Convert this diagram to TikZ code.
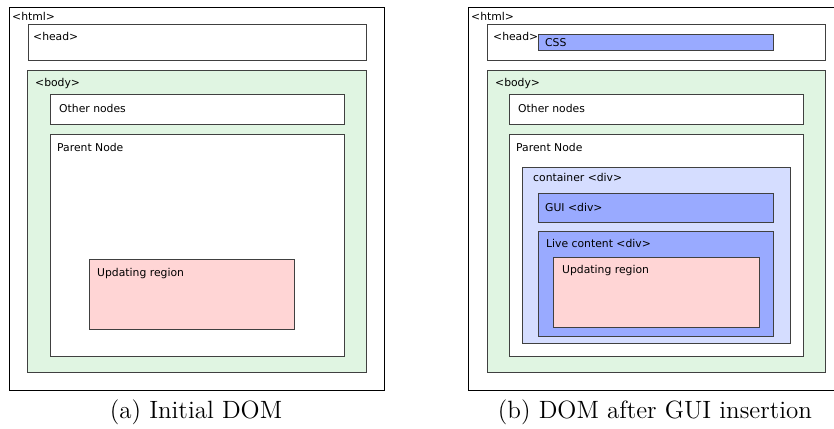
\documentclass[tikz,border=0pt]{standalone}
\usepackage{fontspec}
\newfontfamily\tagfont{DejaVu Sans}
\newfontfamily\capfont{lmroman12-regular.otf}
\usetikzlibrary{positioning}
\colorlet{line colour}{black!75}
\definecolor{body colour}{RGB}{224,245,226}
\definecolor{update colour}{RGB}{255,213,213}
\definecolor{gui colour}{RGB}{153,170,255}
\definecolor{container colour}{RGB}{213,221,255}
\tikzset{
    % Every DOM element is a plain box hung from its top left corner
    box/.style={draw=line colour, line width=0.9pt, inner sep=0,
        anchor=north west},
    html box/.style={box, draw=black, line width=0.8pt},
    % Element names sit inside, near the top left corner
    tag/.style={font=\tagfont\fontsize{10.8}{12}\selectfont, inner sep=0},
    caption/.style={font=\capfont\fontsize{25}{29}\selectfont, inner sep=0},
}

\begin{document}
\begin{tikzpicture}[x=1pt, y=-1pt]

% This path fixes the extent of the picture
\useasboundingbox (0,0) rectangle (834,428);
\clip (0,0) rectangle (834,428);

% (a) Initial DOM
\node [html box, minimum width=375pt, minimum height=383pt] (html a) at (9,7) {};
\node [tag, below right=5pt and 3pt of html a.north west] {<html>};

\node [box, minimum width=338pt, minimum height=36pt] (head a) at (28,24) {};
\node [tag, below right=8pt and 5pt of head a.north west] {<head>};

\node [box, fill=body colour, minimum width=339pt, minimum height=302pt] (body a) at (27,70) {};
\node [tag, below right=8pt and 8pt of body a.north west] {<body>};

\node [box, fill=white, minimum width=294pt, minimum height=30pt] (other a) at (50,94) {};
\node [tag, below right=10pt and 9pt of other a.north west] {Other nodes};

\node [box, fill=white, minimum width=294pt, minimum height=222pt] (parent a) at (50,134) {};
\node [tag, below right=9pt and 7pt of parent a.north west] {Parent Node};

\node [box, fill=update colour, minimum width=205pt, minimum height=70pt] (update a) at (89,259) {};
\node [tag, below right=9pt and 8pt of update a.north west] {Updating region};

\node [caption] (caption a) at (196,412) {(a) Initial DOM};

% (b) DOM after GUI insertion
\node [html box, minimum width=390pt, minimum height=383pt] (html b) at (468,7) {};
\node [tag, below right=5pt and 3pt of html b.north west] {<html>};

\node [box, minimum width=338pt, minimum height=36pt] (head b) at (487,24) {};
\node [tag, below right=8pt and 6pt of head b.north west] {<head>};
\node [box, fill=gui colour, minimum width=235pt, minimum height=16pt] (css) at (538,34) {};
\node [tag, below right=4pt and 7pt of css.north west] {CSS};

\node [box, fill=body colour, minimum width=338pt, minimum height=302pt] (body b) at (487,70) {};
\node [tag, below right=8pt and 8pt of body b.north west] {<body>};

\node [box, fill=white, minimum width=294pt, minimum height=30pt] (other b) at (509,94) {};
\node [tag, below right=10pt and 9pt of other b.north west] {Other nodes};

\node [box, fill=white, minimum width=294pt, minimum height=222pt] (parent b) at (509,134) {};
\node [tag, below right=9pt and 7pt of parent b.north west] {Parent Node};

\node [box, fill=container colour, minimum width=268pt, minimum height=176pt] (container) at (522,167) {};
\node [tag, below right=6pt and 11pt of container.north west] {container <div>};

\node [box, fill=gui colour, minimum width=235pt, minimum height=29pt] (gui) at (538,193) {};
\node [tag, below right=10pt and 7pt of gui.north west] {GUI <div>};

\node [box, fill=gui colour, minimum width=235pt, minimum height=105pt] (live) at (538,231) {};
\node [tag, below right=8pt and 8pt of live.north west] {Live content <div>};

\node [box, fill=update colour, minimum width=206pt, minimum height=70pt] (update b) at (553,257) {};
\node [tag, below right=8pt and 9pt of update b.north west] {Updating region};

\node [caption] (caption b) at (655,412) {(b) DOM after GUI insertion};

\end{tikzpicture}
\end{document}
